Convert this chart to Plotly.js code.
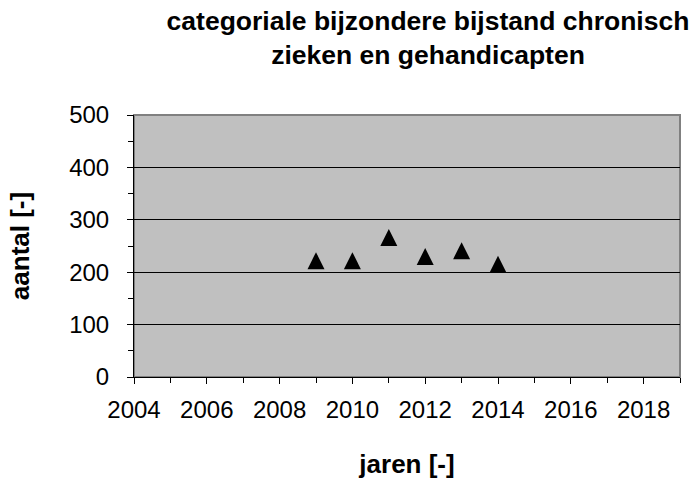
<!DOCTYPE html>
<html>
<head>
<meta charset="utf-8">
<script src="https://cdn.plot.ly/plotly-3.0.1.min.js"></script>
<style>html,body{margin:0;padding:0;background:#fff;}#chart{width:695px;height:485px;}</style>
</head>
<body>
<div id="chart"></div>
<script>
// Data
const years = [2009, 2010, 2011, 2012, 2013, 2014];
const aantal = [222, 222, 266, 230, 241, 215];
const xTickVals = [2004, 2006, 2008, 2010, 2012, 2014, 2016, 2018];
const xTickText = ['2004', '2006', '2008', '2010', '2012', '2014', '2016', '2018'];
const yTickVals = [0, 100, 200, 300, 400, 500];
const yTickText = ['0', '100', '200', '300', '400', '500'];
const chartTitle = 'categoriale bijzondere bijstand chronisch<br>zieken en gehandicapten';
const xTitle = 'jaren [-]';
const yTitle = 'aantal [-]';

const FONT = '"Liberation Sans", Arial, sans-serif';

const trace = {
  x: years,
  y: aantal,
  type: 'scatter',
  mode: 'markers',
  marker: {
    symbol: 'arrow-down',
    angle: 180,
    standoff: 8.5,
    size: 17,
    color: '#000000',
    line: {width: 0}
  },
  hoverinfo: 'x+y',
  showlegend: false
};

const layout = {
  width: 695,
  height: 485,
  paper_bgcolor: '#ffffff',
  plot_bgcolor: '#C0C0C0',
  margin: {l: 134, r: 15, t: 115, b: 108, pad: 0},
  font: {family: FONT, color: '#000000'},
  title: {
    text: chartTitle,
    font: {family: FONT, size: 26.5, weight: 'bold', color: '#000'},
    xref: 'container', x: 428 / 695, xanchor: 'center',
    yref: 'container', y: 1 - 30 / 485, yanchor: 'top'
  },
  xaxis: {
    range: [2004, 2019],
    tickmode: 'array', tickvals: xTickVals, ticktext: xTickText,
    ticks: 'outside', ticklen: 6, tickwidth: 1, tickcolor: '#000',
    minor: {dtick: 1, tick0: 2004, ticks: 'outside', ticklen: 5, tickwidth: 1, tickcolor: '#000', showgrid: false},
    showgrid: false, zeroline: false,
    showline: true, linecolor: '#000', linewidth: 1,
    tickfont: {family: FONT, size: 24, color: '#000'},
    ticklabelstandoff: 5,
    title: {text: xTitle, font: {family: FONT, size: 26, weight: 'bold', color: '#000'}, standoff: 33},
    automargin: false,
    fixedrange: true
  },
  yaxis: {
    range: [0, 500],
    tickmode: 'array', tickvals: yTickVals, ticktext: yTickText,
    ticks: 'outside', ticklen: 6, tickwidth: 1, tickcolor: '#000',
    minor: {dtick: 50, tick0: 0, ticks: 'outside', ticklen: 5, tickwidth: 1, tickcolor: '#000', showgrid: false},
    showgrid: true, gridcolor: '#000', gridwidth: 1,
    zeroline: false,
    showline: true, linecolor: '#000', linewidth: 1,
    tickfont: {family: FONT, size: 24, color: '#000'},
    ticklabelstandoff: 13,
    title: {text: yTitle, font: {family: FONT, size: 26, weight: 'bold', color: '#000'}, standoff: 32},
    automargin: false,
    fixedrange: true
  },
  shapes: [{
    type: 'rect', xref: 'paper', yref: 'paper', x0: 0, x1: 1, y0: 0, y1: 1,
    line: {color: '#808080', width: 2}, fillcolor: 'rgba(0,0,0,0)', layer: 'below'
  }]
};

Plotly.newPlot('chart', [trace], layout, {displayModeBar: false, staticPlot: true});
</script>
</body>
</html>
